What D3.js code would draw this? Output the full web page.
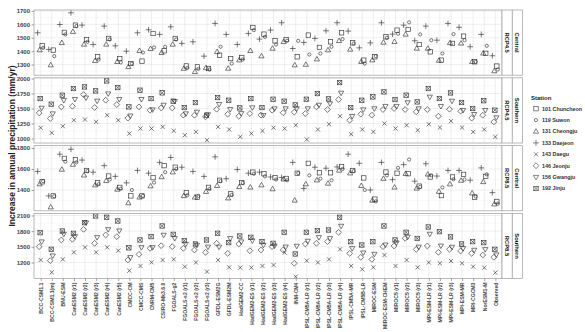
<!DOCTYPE html>
<html>
<head>
<meta charset="utf-8">
<script src="https://cdn.jsdelivr.net/npm/d3@7"></script>
<style>
  body { margin: 0; background: #fff; }
  svg { display: block; font-family: 'Liberation Sans', Arial, sans-serif; }
</style>
</head>
<body>
<svg id="chart" width="585" height="332"></svg>
<script>
// GCM runs on the x axis
const models = ['BCC-CSM1.1', 'BCC-CSM1.1(m)', 'BNU-ESM', 'CanESM2 (r1)', 'CanESM2 (r2)',
  'CanESM2 (r3)', 'CanESM2 (r4)', 'CanESM2 (r5)', 'CMCC-CM', 'CMCC-CMS', 'CNRM-CM5',
  'CSIRO-Mk3.6.0', 'FGOALS-g2', 'FGOALS-s2 (r1)', 'FGOALS-s2 (r2)', 'FGOALS-s2 (r3)',
  'GFDL-ESM2G', 'GFDL-ESM2M', 'HadGEM2-CC', 'HadGEM2-ES (r1)', 'HadGEM2-ES (r2)',
  'HadGEM2-ES (r3)', 'HadGEM2-ES (r4)', 'INM-CM4', 'IPSL-CM5A-LR (r1)', 'IPSL-CM5A-LR (r2)',
  'IPSL-CM5A-LR (r3)', 'IPSL-CM5A-LR (r4)', 'IPSL-CM5A-MR', 'IPSL-CM5B-LR', 'MIROC-ESM',
  'MIROC-ESM-CHEM', 'MIROC5 (r1)', 'MIROC5 (r2)', 'MIROC5 (r3)', 'MPI-ESM-LR (r1)',
  'MPI-ESM-LR (r2)', 'MPI-ESM-LR (r3)', 'MPI-ESM-MR', 'MRI-CGCM3', 'NorESM1-M', 'Observed'];

const stations = ['101 Chuncheon', '119 Suwon', '131 Cheongju', '133 Daejeon',
  '143 Daegu', '146 Jeonju', '156 Gwangju', '192 Jinju'];

// Central region, RCP4.5 (mm/yr)
const cen45Chuncheon = [1440,1408,1540,1594,1487,1358,1495,1345,1308,1326,1532,1403,1495,1290,1283,1271,1370,1345,1353,1577,1527,1477,1487,1358,1520,1428,1470,1537,1462,1333,1358,1507,1557,1562,1450,1395,1333,1458,1512,1321,1384,1289];
const cen45Suwon     = [1425,1363,1525,1587,1470,1338,1487,1316,1308,1390,1428,1433,1487,1275,1268,1263,1433,1308,1338,1557,1507,1450,1478,1477,1375,1383,1433,1490,1457,1308,1363,1500,1530,1615,1525,1482,1383,1527,1482,1321,1440,1264];
const cen45Cheongju  = [1408,1296,1462,1545,1450,1328,1450,1321,1283,1403,1418,1388,1450,1270,1246,1275,1395,1271,1333,1403,1363,1420,1470,1296,1300,1340,1408,1477,1413,1321,1333,1465,1470,1525,1420,1420,1330,1462,1458,1321,1384,1252];
const cen45Daejeon   = [1537,1413,1599,1686,1594,1450,1587,1440,1400,1537,1560,1525,1582,1458,1470,1363,1607,1525,1450,1532,1490,1557,1612,1420,1465,1495,1552,1612,1550,1425,1462,1612,1527,1594,1478,1587,1482,1607,1578,1433,1525,1366];

// Southern region, RCP4.5
const sou45Daegu   = [1178,1094,1205,1305,1316,1278,1389,1305,1083,1166,1166,1194,1127,1055,1111,972,1194,1150,1028,1083,1127,1180,1166,1222,983,1150,1238,1372,1072,1150,1111,1250,1166,1222,1139,1238,1183,1290,1183,1110,1150,1027];
const sou45Jeonju  = [1427,1333,1527,1538,1733,1516,1638,1566,1340,1527,1472,1510,1510,1389,1388,1360,1488,1405,1372,1416,1390,1472,1430,1440,1416,1527,1483,1650,1305,1405,1389,1483,1500,1483,1444,1483,1372,1488,1455,1340,1388,1277];
const sou45Gwangju = [1510,1416,1638,1655,1680,1627,1749,1655,1380,1655,1483,1560,1622,1416,1444,1400,1572,1488,1420,1516,1388,1500,1500,1500,1500,1560,1583,1760,1372,1483,1500,1540,1540,1600,1500,1694,1538,1627,1472,1405,1472,1350];
const sou45Jinju   = [1666,1572,1722,1833,1860,1794,1960,1849,1527,1805,1666,1761,1622,1516,1599,1388,1683,1638,1510,1666,1516,1655,1622,1560,1655,1749,1660,1933,1516,1638,1694,1777,1650,1722,1610,1833,1667,1760,1600,1500,1630,1472];

// Central region, RCP8.5
const cen85Chuncheon = [1478,1344,1701,1688,1586,1468,1533,1425,1344,1344,1518,1632,1617,1375,1332,1425,1493,1363,1471,1570,1555,1518,1510,1560,1654,1564,1564,1623,1586,1515,1313,1571,1560,1555,1437,1524,1347,1524,1549,1332,1530,1291];
const cen85Suwon     = [1484,1340,1670,1663,1580,1456,1500,1412,1400,1344,1471,1570,1600,1350,1344,1409,1484,1353,1468,1555,1530,1500,1493,1561,1540,1508,1493,1600,1580,1400,1292,1540,1611,1690,1430,1540,1425,1502,1500,1338,1549,1270];
const cen85Cheongju  = [1456,1236,1595,1642,1540,1446,1487,1405,1276,1330,1437,1524,1570,1344,1330,1384,1440,1322,1430,1425,1446,1409,1502,1301,1456,1493,1462,1586,1560,1440,1300,1508,1425,1555,1415,1549,1385,1456,1490,1369,1477,1265];
const cen85Daejeon   = [1577,1344,1741,1788,1685,1570,1632,1530,1468,1586,1560,1663,1710,1617,1577,1530,1716,1508,1595,1560,1570,1524,1520,1663,1415,1617,1608,1620,1741,1654,1400,1663,1499,1642,1484,1650,1533,1586,1586,1493,1611,1375];

// Southern region, RCP8.5
const sou85Daegu   = [1248,1011,1260,1394,1490,1394,1490,1427,1043,1133,1203,1248,1260,1120,1200,1024,1248,1107,1101,1101,1133,1150,1388,928,1235,1200,1260,1452,1133,1069,1107,1343,1133,1248,1107,1200,1184,1228,1184,1120,1100,1005];
const sou85Jeonju  = [1503,1235,1631,1644,1835,1567,1727,1695,1248,1356,1471,1522,1503,1471,1439,1394,1567,1375,1554,1426,1439,1503,1439,1184,1554,1567,1600,1778,1375,1299,1260,1503,1516,1663,1452,1516,1395,1452,1420,1375,1343,1300];
const sou85Gwangju = [1599,1330,1746,1700,1963,1682,1835,1810,1299,1490,1490,1727,1663,1554,1535,1500,1500,1663,1600,1618,1535,1520,1500,1516,1612,1682,1663,1899,1471,1388,1362,1540,1580,1690,1500,1746,1520,1497,1471,1439,1452,1350];
const sou85Jinju   = [1771,1452,1803,1758,1963,2091,2066,1995,1480,1631,1695,1899,1739,1618,1554,1631,1759,1580,1707,1682,1600,1567,1778,1363,1778,1810,1822,2065,1599,1535,1599,1899,1631,1778,1660,1880,1790,1690,1554,1599,1580,1452];

// free y scales per panel
const cen45Limits = [1221, 1707];
const sou45Limits = [925, 2012];
const cen85Limits = [1202, 1823];
const sou85Limits = [891, 2140];
const cen45Ticks = [1300, 1400, 1500, 1600, 1700];
const sou45Ticks = [1000, 1250, 1500, 1750, 2000];
const cen85Ticks = [1400, 1600, 1800];
const sou85Ticks = [1200, 1500, 1800, 2100];

const panels = [
  { region: 'Central', rcp: 'RCP4.5', limits: cen45Limits, ticks: cen45Ticks,
    series: [[0, cen45Chuncheon], [1, cen45Suwon], [2, cen45Cheongju], [3, cen45Daejeon]] },
  { region: 'Southern', rcp: 'RCP4.5', limits: sou45Limits, ticks: sou45Ticks,
    series: [[4, sou45Daegu], [5, sou45Jeonju], [6, sou45Gwangju], [7, sou45Jinju]] },
  { region: 'Central', rcp: 'RCP8.5', limits: cen85Limits, ticks: cen85Ticks,
    series: [[0, cen85Chuncheon], [1, cen85Suwon], [2, cen85Cheongju], [3, cen85Daejeon]] },
  { region: 'Southern', rcp: 'RCP8.5', limits: sou85Limits, ticks: sou85Ticks,
    series: [[4, sou85Daegu], [5, sou85Jeonju], [6, sou85Gwangju], [7, sou85Jinju]] }
];

var left = 34, right = 502;
var top0 = 10, panelH = 65.2, gap = 2.6;
var stripW = 10.3;
var ink = '#333';
var dodge = [1.5, 2.5, -1, -3, 0, -1.5, 1, -0.5];

var svg = d3.select('#chart');

var x = d3.scalePoint().domain(models).range([left, right]).padding(0.6);

// draws one of the ggplot open shapes 0..7 into g
function drawShape(g, k) {
  var s = 2.2;
  if (k === 0) {
    g.append('rect').attr('x', -s).attr('y', -s).attr('width', 2 * s).attr('height', 2 * s);
  } else if (k === 1) {
    g.append('circle').attr('r', 1.6);
  } else if (k === 2) {
    g.append('path').attr('d', 'M0,-2.8L2.6,1.7L-2.6,1.7Z');
  } else if (k === 3) {
    g.append('path').attr('d', 'M-2.9,0H2.9M0,-2.9V2.9');
  } else if (k === 4) {
    g.append('path').attr('d', 'M-2.1,-2.1L2.1,2.1M-2.1,2.1L2.1,-2.1');
  } else if (k === 5) {
    g.append('path').attr('d', 'M0,-2.9L2.9,0L0,2.9L-2.9,0Z');
  } else if (k === 6) {
    g.append('path').attr('d', 'M0,2.8L2.6,-1.7L-2.6,-1.7Z');
  } else {
    g.append('rect').attr('x', -s).attr('y', -s).attr('width', 2 * s).attr('height', 2 * s);
    g.append('path').attr('d', 'M' + -s + ',' + -s + 'L' + s + ',' + s + 'M' + -s + ',' + s + 'L' + s + ',' + -s);
  }
}

panels.forEach(function (p, pi) {
  var y0 = top0 + pi * (panelH + gap);
  var y1 = y0 + panelH;
  var y = d3.scaleLinear().domain(p.limits).range([y1, y0]);

  var g = svg.append('g');

  // minor grid halfway between majors
  var step = p.ticks[1] - p.ticks[0];
  var minor = d3.range(p.ticks[0] - step / 2, p.limits[1], step)
    .filter(function (v) { return v > p.limits[0]; });

  g.append('rect').attr('x', left).attr('y', y0).attr('width', right - left).attr('height', panelH)
    .attr('fill', '#fff');

  g.selectAll('line.minor').data(minor).enter().append('line')
    .attr('x1', left).attr('x2', right)
    .attr('y1', function (d) { return y(d); }).attr('y2', function (d) { return y(d); })
    .attr('stroke', '#f0f0f0').attr('stroke-width', 0.4);

  g.selectAll('line.major').data(p.ticks).enter().append('line')
    .attr('x1', left).attr('x2', right)
    .attr('y1', function (d) { return y(d); }).attr('y2', function (d) { return y(d); })
    .attr('stroke', '#e3e3e3').attr('stroke-width', 0.6);

  g.selectAll('line.vgrid').data(models).enter().append('line')
    .attr('x1', function (d) { return x(d); }).attr('x2', function (d) { return x(d); })
    .attr('y1', y0).attr('y2', y1)
    .attr('stroke', '#e3e3e3').attr('stroke-width', 0.6);

  // points
  p.series.forEach(function (s) {
    var k = s[0];
    var pts = g.append('g').attr('fill', 'none').attr('stroke', ink).attr('stroke-width', 0.65)
      .selectAll('g').data(s[1]).enter().append('g')
      .attr('transform', function (d, i) {
        return 'translate(' + (x(models[i]) + dodge[k]) + ',' + y(d) + ')';
      });
    pts.each(function () { drawShape(d3.select(this), k); });
  });

  g.append('rect').attr('x', left).attr('y', y0).attr('width', right - left).attr('height', panelH)
    .attr('fill', 'none').attr('stroke', '#a8a8a8').attr('stroke-width', 0.8);

  // y axis
  var ya = g.append('g').attr('transform', 'translate(' + left + ',0)')
    .call(d3.axisLeft(y).tickValues(p.ticks).tickFormat(d3.format('d')).tickSize(2.5).tickPadding(1.5));
  ya.select('.domain').remove();
  ya.selectAll('line').attr('stroke', '#666').attr('stroke-width', 0.6);
  ya.selectAll('text').attr('font-size', 6).attr('font-weight', 'bold').attr('fill', '#444')
    .attr('font-family', 'Liberation Sans, Arial, sans-serif');

  // strips: inner rcp, outer region
  [[p.rcp, right], [p.region, right + stripW]].forEach(function (st) {
    g.append('rect').attr('x', st[1]).attr('y', y0).attr('width', stripW).attr('height', panelH)
      .attr('fill', '#fff').attr('stroke', '#a8a8a8').attr('stroke-width', 0.8);
    g.append('text')
      .attr('transform', 'translate(' + (st[1] + stripW / 2) + ',' + (y0 + panelH / 2) + ') rotate(90)')
      .attr('text-anchor', 'middle').attr('dy', '0.35em')
      .attr('font-size', 5.8).attr('font-weight', 'bold').attr('fill', '#111')
      .text(st[0]);
  });

  if (pi === panels.length - 1) {
    var xa = g.append('g').attr('transform', 'translate(0,' + y1 + ')')
      .call(d3.axisBottom(x).tickSize(2.5).tickPadding(1.5));
    xa.select('.domain').remove();
    xa.selectAll('line').attr('stroke', '#666').attr('stroke-width', 0.6);
    xa.selectAll('text')
      .attr('transform', 'rotate(-90)')
      .attr('x', -4).attr('y', 0).attr('dy', '0.35em')
      .attr('text-anchor', 'end')
      .attr('font-size', 5.1).attr('font-weight', 'bold').attr('fill', '#444')
      .attr('font-family', 'Liberation Sans, Arial, sans-serif');
  }
});

// y title
svg.append('text')
  .attr('transform', 'translate(15,146) rotate(-90)')
  .attr('text-anchor', 'middle')
  .attr('font-size', 8.5).attr('font-weight', 'bold').attr('fill', '#222')
  .text('Increase in annual precipitation (mm/yr)');

// legend
var lg = svg.append('g').attr('transform', 'translate(531,98)');
lg.append('text').attr('dy', '0.35em').attr('font-size', 6).attr('font-weight', 'bold')
  .attr('fill', '#222').text('Station');
var rows = lg.selectAll('g.row').data(stations).enter().append('g')
  .attr('transform', function (d, i) { return 'translate(0,' + (10.7 + i * 11.4) + ')'; });
rows.each(function (d, i) {
  var sg = d3.select(this).append('g').attr('transform', 'translate(5,0)')
    .attr('fill', 'none').attr('stroke', ink).attr('stroke-width', 0.6);
  drawShape(sg, i);
});
rows.append('text').attr('x', 11).attr('dy', '0.35em')
  .attr('font-size', 5.4).attr('font-weight', 'bold').attr('fill', '#333')
  .text(function (d) { return d; });
</script>
</body>
</html>
